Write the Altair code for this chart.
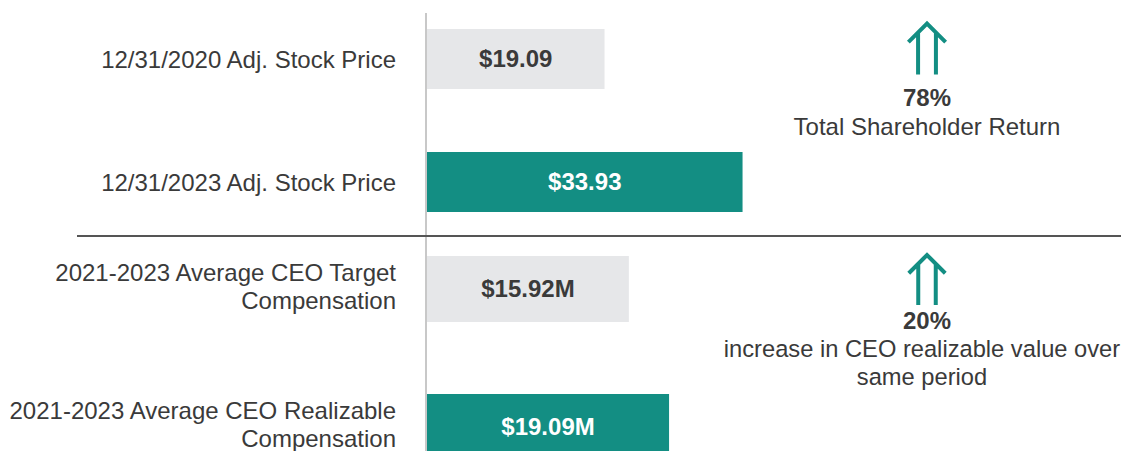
import altair as alt
import pandas as pd

# ---- data ----
price_labels = ["12/31/2020 Adj. Stock Price", "12/31/2023 Adj. Stock Price"]
price_values = [19.09, 33.93]
price_text = ["$19.09", "$33.93"]

comp_labels = ["2021-2023 Average CEO Target\nCompensation",
               "2021-2023 Average CEO Realizable\nCompensation"]
comp_values = [15.92, 19.09]
comp_text = ["$15.92M", "$19.09M"]

kinds = ["prior", "current"]

ann_pct = ["78%", "20%"]
ann_desc = ["Total Shareholder Return", "increase in CEO realizable value over\nsame period"]

# ---- styles ----
TEAL = "#138e83"
GRAY = "#e6e7e9"
TXT = "#3a3a3a"
FONT = "Liberation Sans"
W, H = 1113, 445

price_df = pd.DataFrame({"label": price_labels, "value": price_values, "text": price_text, "kind": kinds})
comp_df = pd.DataFrame({"label": comp_labels, "value": comp_values, "text": comp_text, "kind": kinds})


def group(df, xdom, xrange, yrange, size, label_dy):
    xs = alt.Scale(domain=xdom, range=xrange)
    ys = alt.Scale(type="point", domain=list(df["label"]), range=yrange, padding=0)
    base = alt.Chart(df)
    is_cur = alt.datum.kind == "current"
    bars = base.mark_bar(size=size).encode(
        x=alt.X("value:Q", scale=xs, axis=None),
        y=alt.Y("label:N", scale=ys, axis=None, sort=None),
        color=alt.condition(is_cur, alt.value(TEAL), alt.value(GRAY)),
    )
    vals = base.transform_calculate(mid="datum.value / 2").mark_text(
        font=FONT, fontWeight="bold", fontSize=24, baseline="middle", align="center", dy=1
    ).encode(
        x=alt.X("mid:Q", scale=xs, axis=None),
        y=alt.Y("label:N", scale=ys, axis=None, sort=None),
        text="text:N",
        color=alt.condition(is_cur, alt.value("white"), alt.value(TXT)),
    )
    labels = base.mark_text(
        font=FONT, fontSize=24, align="right", baseline="middle", lineBreak="\n",
        lineHeight=28, color=TXT, dy=label_dy
    ).encode(
        x=alt.value(388),
        y=alt.Y("label:N", scale=ys, axis=None, sort=None),
        text="label:N",
    )
    return alt.layer(bars, vals, labels)


g1 = group(price_df, [0, 40], [419, 791], [51, 174], 60, 1.5)
g2 = group(comp_df, [0, 25], [419, 736], [281, 419], 66, -15)

one = alt.Chart(pd.DataFrame({"a": [0]}))

axis_line = one.mark_rule(color="#c8c8c8", strokeWidth=2).encode(
    x=alt.value(418), y=alt.value(5), y2=alt.value(H))
sep_line = one.mark_rule(color="#555555", strokeWidth=2).encode(
    x=alt.value(69), x2=alt.value(W), y=alt.value(228))

ARROW = "M -0.35 1 L -0.35 -0.65 M 0.35 1 L 0.35 -0.65 M -0.73 -0.27 L 0 -1 L 0.73 -0.27"
arrow1 = one.mark_point(shape=ARROW, filled=False, stroke=TEAL, strokeWidth=4,
                        size=2601, opacity=1).encode(x=alt.value(919), y=alt.value(41))
arrow2 = one.mark_point(shape=ARROW, filled=False, stroke=TEAL, strokeWidth=4,
                        size=2500, opacity=1).encode(x=alt.value(919), y=alt.value(272))

pct1 = alt.Chart(pd.DataFrame({"t": [ann_pct[0]]})).mark_text(
    font=FONT, fontSize=24, fontWeight="bold", color=TXT, align="center", baseline="middle"
).encode(x=alt.value(919), y=alt.value(91), text="t:N")
desc1 = alt.Chart(pd.DataFrame({"t": [ann_desc[0]]})).mark_text(
    font=FONT, fontSize=24, color=TXT, align="center", baseline="middle"
).encode(x=alt.value(919), y=alt.value(120), text="t:N")
pct2 = alt.Chart(pd.DataFrame({"t": [ann_pct[1]]})).mark_text(
    font=FONT, fontSize=24, fontWeight="bold", color=TXT, align="center", baseline="middle"
).encode(x=alt.value(919), y=alt.value(314), text="t:N")
desc2 = alt.Chart(pd.DataFrame({"t": [ann_desc[1]]})).mark_text(
    font=FONT, fontSize=23.7, color=TXT, align="center", baseline="middle",
    lineBreak="\n", lineHeight=28
).encode(x=alt.value(914), y=alt.value(342), text="t:N")

chart = alt.layer(
    g1, g2, axis_line, sep_line, arrow1, arrow2, pct1, desc1, pct2, desc2
).resolve_scale(
    x="independent", y="independent"
).properties(
    width=W, height=H, padding=0, autosize=alt.AutoSizeParams(type="none")
).configure_view(stroke=None)

chart.save("out.html", embed_options={"renderer": "svg", "actions": False})
